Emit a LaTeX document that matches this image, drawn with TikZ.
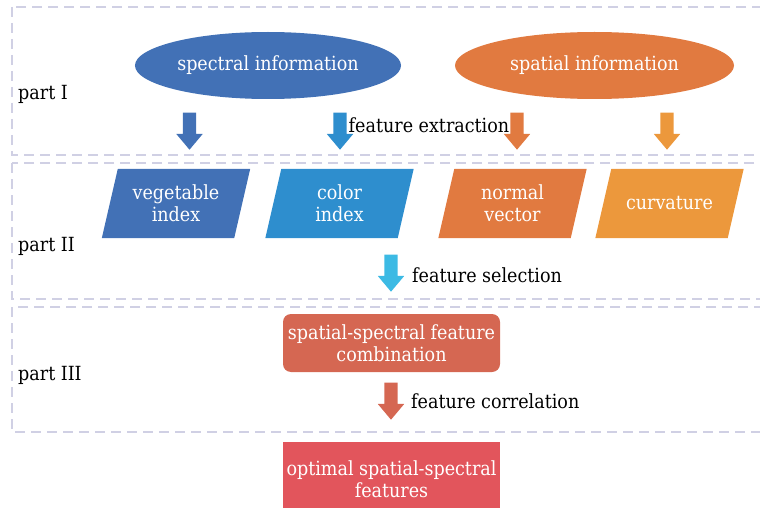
\documentclass[tikz,border=0pt]{standalone}
\usepackage{fontspec}
\setmainfont{DejaVu Serif Condensed}
\usetikzlibrary{positioning,shapes.geometric,shapes.arrows,backgrounds}
\definecolor{dashgray}{RGB}{208,208,228}
\definecolor{specblue}{RGB}{66,113,182}
\definecolor{colblue}{RGB}{46,142,206}
\definecolor{spatorange}{RGB}{225,122,64}
\definecolor{curvorange}{RGB}{236,152,60}
\definecolor{selcyan}{RGB}{60,186,228}
\definecolor{combred}{RGB}{213,103,82}
\definecolor{optred}{RGB}{226,85,92}
\newcommand{\figfont}{\fontsize{19.5}{22}\selectfont}
\tikzset{
    partbox/.style={draw=dashgray, line width=2.5pt, dash pattern=on 10pt off 6pt},
    infonode/.style={ellipse, text=white, minimum width=253pt, minimum height=67pt},
    featbox/.style={minimum width=132pt, minimum height=69pt, text=white, align=center,
        inner sep=0pt},
    downarrow/.style={single arrow, shape border rotate=270, anchor=tail, minimum height=37pt,
        inner sep=6.5pt, single arrow head extend=6.5pt, single arrow tip angle=80},
    stepnode/.style={minimum width=217pt, text=white, align=center}
}
\begin{document}
\begin{tikzpicture}[x=1pt,y=-1pt,font=\figfont]
\useasboundingbox (0,0) rectangle (760,508);

% dashed frames
\draw[partbox] (12,7) rectangle (775,155);
\draw[partbox] (12,163) rectangle (775,299);
\draw[partbox] (12,307) rectangle (775,432);

\node[anchor=base west, inner sep=0pt] (partI) at (18,100) {part I};
\node[anchor=base west, inner sep=0pt] (partII) at (18,251) {part II};
\node[anchor=base west, inner sep=0pt] (partIII) at (18,380) {part III};

% part I
\node[infonode, fill=specblue] (spec) at (268,65.5) {spectral information};
\node[infonode, fill=spatorange, minimum width=279pt] (spat) at (594.5,65.5) {spatial information};

\node[downarrow, fill=specblue] (ar1) at (189.5,112.5) {};
\node[downarrow, fill=colblue] (ar2) at (340,112.5) {};
\node[downarrow, fill=spatorange] (ar3) at (517,112.5) {};
\node[downarrow, fill=curvorange] (ar4) at (667,112.5) {};
\node[anchor=base, inner sep=0pt] (extract) at (429,132) {feature extraction};

% part II
\node[featbox] (veg) at (176,203.5) {vegetable\\index};
\node[featbox] (col) at (339.5,203.5) {color\\index};
\node[featbox] (norm) at (512.5,203.5) {normal\\vector};
\node[featbox] (curv) at (669.5,203.5) {curvature};

\begin{scope}[on background layer]
\foreach \n/\c in {veg/specblue, col/colblue, norm/spatorange, curv/curvorange}
    \fill[\c] ([xshift=-8pt]\n.south west) -- ([xshift=-8pt]\n.south east)
        -- ([xshift=8pt]\n.north east) -- ([xshift=8pt]\n.north west) -- cycle;
\end{scope}

\node[downarrow, fill=selcyan] (ar5) at (391,254.5) {};
\node[anchor=base west, inner sep=0pt] (select) at (412,282) {feature selection};

% part III
\node[stepnode, fill=combred, rounded corners=8pt, minimum height=58pt] (comb) at (391.5,343)
    {spatial-spectral feature\\combination};
\node[downarrow, fill=combred] (ar6) at (391,382.5) {};
\node[anchor=base west, inner sep=0pt] (correl) at (411,408) {feature correlation};

\node[stepnode, fill=optred, minimum height=74pt] (opt) at (391.5,479)
    {optimal spatial-spectral\\features};
\end{tikzpicture}
\end{document}
